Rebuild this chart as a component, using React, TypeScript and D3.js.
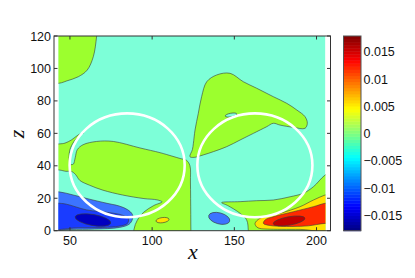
import React from "react";
import * as d3 from "d3";

// ---- data (x, z in data units) ----
const xTicks = [50, 100, 150, 200];
const zTicks = [0, 20, 40, 60, 80, 100, 120];
const cbTicks = [-0.015, -0.01, -0.005, 0, 0.005, 0.01, 0.015];
const cbTickLabels = ["\u22120.015", "\u22120.01", "\u22120.005", "0", "0.005", "0.01", "0.015"];
const cbDomain = [-0.0178, 0.0179];
const dataExtentX = [43, 205.4];
const dataExtentZ = [0, 120];

const greenTopLeft: [number, number][] = [[30, 130], [30, 90.9], [43.5, 90.9], [48, 92.3], [55.1, 94.9], [60.5, 99], [64.2, 107.2], [66.2, 119.6], [67, 130]];
const greenLeft: [number, number][] = [
  [30, 37.4], [43.5, 37.4], [47.5, 36.6], [51, 36.5], [53.5, 34.5], [56, 31], [62, 28], [70, 25], [82, 22], [95, 19.8], [103, 19], [106, 17.8],
  [101, 15.5], [95, 11.5], [91, 6.5], [89, 1], [89, -8], [124, -8], [123.6, 0], [123.5, 10], [123.3, 30], [123, 40], [121, 43.3], [117, 44.5],
  [112, 46], [104.8, 48.1], [92.6, 51], [76.4, 55], [66.2, 55], [58, 53], [54.5, 50], [53.2, 45], [52, 41], [50.3, 41], [49.5, 45], [50, 50],
  [52.5, 55], [56, 58.8], [58.5, 60.5], [55, 59], [51, 56], [47, 54], [43.5, 53.5], [30, 53.5],
];
const greenRight: [number, number][] = [
  [123, 45.6], [124.5, 50], [125.1, 53.9], [126.1, 62.1], [128.1, 72.4], [130.1, 82.6], [133.2, 91.8], [139.3, 96], [147.4, 97], [155.5, 91.8],
  [163.6, 87.8], [173.7, 82.6], [181.9, 78.5], [188, 74.4], [193, 70.3], [194.4, 66.2], [193, 63.1], [185.9, 63.7], [177.8, 65.1], [173.7, 66.2],
  [169.7, 64.1], [161.6, 60], [153.5, 55.9], [145.4, 51.8], [137.2, 48.7], [131.1, 46.7], [125.5, 45.2],
];
const greenBottomRight: [number, number][] = [
  [142.3, 17.3], [153.5, 17.9], [163.6, 18.5], [173.7, 18.9], [183.9, 20.9], [192, 23.1], [198.1, 27.1], [205.2, 34.3], [215, 40], [215, -8],
  [158.5, -8], [158.5, 0], [157.5, 6.6], [153.5, 10.7], [146, 15.5],
];
const yellowBottomRight: [number, number][] = [
  [163.6, 2.3], [162.6, 4.5], [165.6, 7.6], [177.8, 10.7], [190, 14.8], [198.1, 18.9], [205.2, 22], [215, 25], [215, 0.8], [190, 0.8], [170, 1], [165.5, 1.4],
];
const redBottomRight: [number, number][] = [
  [171.8, 3.2], [167.7, 4.5], [168.7, 6.6], [173.7, 8.6], [185.9, 11.7], [198.1, 14.8], [205.2, 16.9], [215, 18], [215, 4], [205.2, 4.5], [195, 3], [185, 2.6],
];
const lightBlueLeft: [number, number][] = [
  [30, 24], [43, 24], [52, 22], [62, 19.4], [72, 17], [80, 15.2], [85, 13], [88, 10], [88, 7], [86, 4], [80, 2], [65, 1], [50, 0.8], [30, 0.8],
];
const mediumBlueLeft: [number, number][] = [
  [30, 17], [43.5, 16.9], [48, 16.3], [60.2, 12.8], [74.3, 11.1], [82, 9.5], [85.5, 7.5], [85, 4.5], [80, 2.8], [70, 2], [55, 1.8], [30, 1.8],
];
// ellipses: [cx, cz, rx, rz, angleDeg]
const cyanHole = [148, 71.3, 3.6, 1.1, 10];
const yellowSmall = [106.3, 6.5, 4, 1.6, 8];
const darkRedCore = [183.3, 6, 9.8, 2.6, 10];
const navyCore = [64, 6.6, 11, 3.4, -10];
const blueCenter = [140.8, 7.6, 6.6, 3.4, -15];
const circles = [[84.8, 40.3, 35, 32], [162.5, 40.3, 35, 32]];

const C = {
  cyan: "#7dffd8",
  green: "#9cff2e",
  yellow: "#ffe200",
  red: "#ff2a00",
  darkred: "#c00000",
  lightblue: "#3c74ff",
  medblue: "#1a3cff",
  navy: "#0000c0",
};

const W = 415, H = 278;
const xScale = d3.scaleLinear().domain([40.3, 208.5]).range([54, 330.5]);
const zScale = d3.scaleLinear().domain([0, 120]).range([230.7, 36]);
const cbScale = d3.scaleLinear().domain(cbDomain).range([230.7, 36]);

const line = d3
  .line<[number, number]>()
  .x((d) => xScale(d[0]))
  .y((d) => zScale(d[1]))
  .curve(d3.curveCatmullRomClosed.alpha(0.5));

function jet(t: number) {
  const c = (v: number) => Math.max(0, Math.min(1, v));
  const r = c(1.5 - Math.abs(4 * t - 3));
  const g = c(1.5 - Math.abs(4 * t - 2));
  const b = c(1.5 - Math.abs(4 * t - 1));
  return d3.rgb(r * 255, g * 255, b * 255).toString();
}

const stroke = "#3a3a3a";
const sw = 0.6;

function Ell({ e, fill }: { e: number[]; fill: string }) {
  const [cx, cz, rx, rz, a] = e;
  const px = xScale(cx), py = zScale(cz);
  return (
    <ellipse
      cx={px}
      cy={py}
      rx={xScale(cx + rx) - px}
      ry={py - zScale(cz + rz)}
      transform={`rotate(${-a} ${px} ${py})`}
      fill={fill}
      stroke={stroke}
      strokeWidth={sw}
    />
  );
}

export default function App() {
  const x0 = xScale(dataExtentX[0]), x1 = xScale(dataExtentX[1]);
  const y0 = zScale(dataExtentZ[1]), y1 = zScale(dataExtentZ[0]);
  const boxL = xScale.range()[0], boxR = xScale.range()[1];
  const boxT = zScale.range()[1], boxB = zScale.range()[0];
  const nCb = 64;
  const cbX = 343.5, cbW = 17.5;
  const cbStep = (cbDomain[1] - cbDomain[0]) / nCb;
  const tickFont = "'Liberation Sans', Arial, Helvetica, sans-serif";
  const regions: [[number, number][], string][] = [
    [greenTopLeft, C.green],
    [greenLeft, C.green],
    [greenRight, C.green],
    [greenBottomRight, C.green],
    [yellowBottomRight, C.yellow],
    [redBottomRight, C.red],
    [lightBlueLeft, C.lightblue],
    [mediumBlueLeft, C.medblue],
  ];
  return (
    <svg width={W} height={H} style={{ position: "absolute", left: 0, top: 0, background: "#fff" }}>
      <defs>
        <clipPath id="dclip">
          <rect x={x0} y={y0} width={x1 - x0} height={y1 - y0} />
        </clipPath>
      </defs>
      <g clipPath="url(#dclip)">
        <rect x={x0} y={y0} width={x1 - x0} height={y1 - y0} fill={C.cyan} />
        {regions.map(([pts, fill], i) => (
          <path key={i} d={line(pts) || ""} fill={fill} stroke={stroke} strokeWidth={sw} />
        ))}
        <Ell e={cyanHole} fill={C.cyan} />
        <Ell e={yellowSmall} fill={C.yellow} />
        <Ell e={darkRedCore} fill={C.darkred} />
        <Ell e={navyCore} fill={C.navy} />
        <Ell e={blueCenter} fill={C.lightblue} />
        {circles.map(([cx, cz, rx, rz], i) => {
          const px = xScale(cx), py = zScale(cz);
          return (
            <ellipse key={i} cx={px} cy={py} rx={xScale(cx + rx) - px} ry={py - zScale(cz + rz)} fill="none" stroke="#fff" strokeWidth={2.6} />
          );
        })}
      </g>
      {/* axes box */}
      <rect x={boxL} y={boxT} width={boxR - boxL} height={boxB - boxT} fill="none" stroke="#333" strokeWidth={1} />
      {xTicks.map((t) => (
        <g key={"xt" + t}>
          <line x1={xScale(t)} x2={xScale(t)} y1={boxB} y2={boxB - 3.5} stroke="#333" />
          <line x1={xScale(t)} x2={xScale(t)} y1={boxT} y2={boxT + 3.5} stroke="#333" />
          <text x={xScale(t)} y={boxB + 14} textAnchor="middle" fontFamily={tickFont} fontSize={12.5} fill="#111">
            {t}
          </text>
        </g>
      ))}
      {zTicks.map((t) => (
        <g key={"zt" + t}>
          <line x1={boxL} x2={boxL + 3.5} y1={zScale(t)} y2={zScale(t)} stroke="#333" />
          <line x1={boxR} x2={boxR - 3.5} y1={zScale(t)} y2={zScale(t)} stroke="#333" />
          <text x={boxL - 3} y={zScale(t)} dy="0.36em" textAnchor="end" fontFamily={tickFont} fontSize={12.5} fill="#111">
            {t}
          </text>
        </g>
      ))}
      <text x={193} y={259} textAnchor="middle" fontFamily="'Liberation Serif', 'Times New Roman', serif" fontStyle="italic" fontSize={22} fill="#111">
        x
      </text>
      <text transform="translate(24,134) rotate(-90)" textAnchor="middle" fontFamily="'Liberation Serif', 'Times New Roman', serif" fontStyle="italic" fontSize={22} fill="#111">
        z
      </text>
      {/* colorbar */}
      {d3.range(nCb).map((i) => {
        const v0 = cbDomain[0] + i * cbStep;
        const v1 = v0 + cbStep;
        return (
          <rect key={"cb" + i} x={cbX} y={cbScale(v1)} width={cbW} height={cbScale(v0) - cbScale(v1) + 0.5} fill={jet((i + 0.5) / nCb)} />
        );
      })}
      <rect x={cbX} y={cbScale(cbDomain[1])} width={cbW} height={cbScale(cbDomain[0]) - cbScale(cbDomain[1])} fill="none" stroke="#555" strokeWidth={1} />
      {cbTicks.map((t, i) => (
        <text key={"cbt" + i} x={cbX + cbW + 2.5} y={cbScale(t)} dy="0.36em" fontFamily={tickFont} fontSize={12.5} fill="#111">
          {cbTickLabels[i]}
        </text>
      ))}
    </svg>
  );
}
